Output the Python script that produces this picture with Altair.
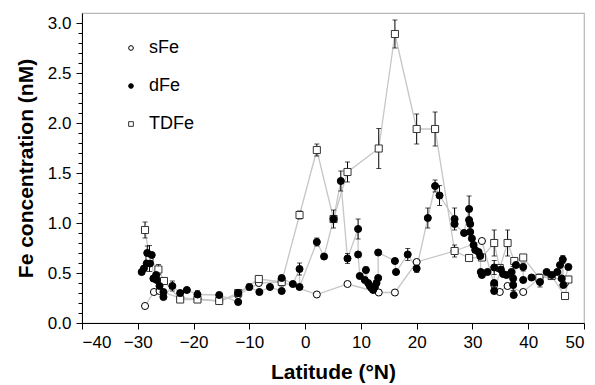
import altair as alt
import pandas as pd

# ---------------- data ----------------
series_names = ["sFe", "dFe", "TDFe"]

tdfe_lat = [-28.7, -27.9, -26.3, -25.3, -22.4, -19.3, -15.4, -12.0, -8.3, -4.2,
            -1.0, 2.1, 5.1, 7.6, 13.2, 16.1, 20.0, 23.3, 26.8, 29.4,
            31.7, 33.9, 34.9, 36.3, 37.5, 39.1, 42.0, 44.2, 46.6, 47.2]
tdfe_val = [0.93, 0.645, 0.535, 0.42, 0.235, 0.235, 0.22, 0.30, 0.44, 0.41,
            1.08, 1.73, 1.04, 1.51, 1.745, 2.89, 1.94, 1.94, 0.72, 0.65,
            0.655, 0.80, 0.55, 0.80, 0.62, 0.655, 0.45, 0.47, 0.27, 0.435]

sfe_lat = [-28.7, -27.1, -26.1, -22.4, -19.3, -15.4, -12.0, -8.3, -4.2, 2.1,
           7.6, 13.2, 16.1, 20.0, 26.8, 31.7, 33.9, 34.9, 36.3, 39.1,
           42.0, 44.2, 46.6]
sfe_val = [0.17, 0.31, 0.32, 0.25, 0.24, 0.22, 0.28, 0.40, 0.41, 0.285,
           0.39, 0.305, 0.305, 0.61, 0.72, 0.82, 0.38, 0.31, 0.37, 0.31,
           0.45, 0.47, 0.40]

dfe_lat = [-29.3, -28.9, -28.4, -28.3, -27.8, -27.5, -27.2, -26.7, -26.6, -26.1,
           -25.4, -25.4, -23.8, -22.4, -21.2, -19.3, -15.4, -12.0, -12.0, -10.0,
           -8.2, -6.3, -4.2, -4.2, -2.2, -1.0, -1.0, 2.1, 3.4, 5.1,
           6.4, 7.6, 9.5, 9.5, 9.8, 10.7, 10.9, 11.3, 11.6, 11.9,
           12.2, 12.5, 12.8, 13.1, 13.1, 16.1, 16.3, 18.4, 20.0, 22.0,
           23.3, 24.1, 26.8, 26.8, 28.5, 29.4, 29.4, 29.6, 29.6, 29.9,
           30.2, 30.5, 31.1, 31.4, 31.5, 31.7, 32.7, 33.9, 33.9, 33.9,
           35.1, 35.5, 36.1, 37.0, 37.3, 37.3, 37.4, 37.8, 39.1, 39.1,
           40.6, 42.1, 43.3, 44.2, 45.2, 45.7, 46.0, 46.2, 46.3, 47.2]
dfe_val = [0.51, 0.545, 0.595, 0.70, 0.595, 0.68, 0.445, 0.48, 0.43, 0.37,
           0.31, 0.26, 0.37, 0.30, 0.33, 0.285, 0.28, 0.21, 0.30, 0.36,
           0.31, 0.36, 0.32, 0.45, 0.39, 0.54, 0.36, 0.81, 0.665, 1.04,
           1.42, 0.645, 0.94, 0.685, 0.47, 0.43, 0.53, 0.40, 0.37, 0.35,
           0.33, 0.36, 0.40, 0.45, 0.705, 0.62, 0.51, 0.685, 0.545, 1.05,
           1.37, 1.275, 1.04, 0.99, 0.90, 1.14, 1.03, 0.99, 0.91, 0.845,
           0.78, 0.73, 0.71, 0.67, 0.51, 0.48, 0.51, 0.555, 0.40, 0.32,
           0.535, 0.49, 0.48, 0.51, 0.445, 0.38, 0.28, 0.58, 0.56, 0.43,
           0.455, 0.41, 0.51, 0.48, 0.51, 0.58, 0.445, 0.635, 0.38, 0.56]

# error bars (centre value and half-width)
err_lat = [-28.7, -27.9, -26.3, -4.2, -1.0, 2.1, 5.1, 7.6, 13.2, 16.1,
           20.0, 23.3, 26.8, 33.9, 36.3, 37.5, 42.0,
           -28.3, -23.8, -19.3, -12.0, -10.0, -1.0, 2.1, 6.4, 9.5,
           7.6, 10.9, 18.4, 20.0, 22.0, 23.3, 24.1, 26.8, 29.4, 33.9,
           37.3, 39.1, 42.1, 46.2]
err_val = [0.93, 0.645, 0.535, 0.41, 1.08, 1.73, 1.04, 1.51, 1.745, 2.89,
           1.94, 1.94, 0.72, 0.80, 0.80, 0.62, 0.45,
           0.70, 0.37, 0.285, 0.30, 0.36, 0.54, 0.81, 1.42, 0.94,
           0.645, 0.53, 0.685, 0.545, 1.05, 1.37, 1.275, 1.04, 1.14, 0.555,
           0.445, 0.56, 0.41, 0.635]
err_sd = [0.08, 0.13, 0.05, 0.04, 0.04, 0.06, 0.09, 0.10, 0.20, 0.14,
          0.15, 0.17, 0.06, 0.13, 0.13, 0.03, 0.04,
          0.07, 0.05, 0.04, 0.03, 0.03, 0.06, 0.04, 0.10, 0.10,
          0.05, 0.03, 0.06, 0.04, 0.10, 0.06, 0.10, 0.11, 0.13, 0.07,
          0.12, 0.04, 0.05, 0.04]

x_ticks = [-40, -30, -20, -10, 0, 10, 20, 30, 40, 50]
y_ticks = [0.0, 0.1, 0.2, 0.3, 0.4, 0.5, 0.6, 0.7, 0.8, 0.9, 1.0,
           1.1, 1.2, 1.3, 1.4, 1.5, 1.6, 1.7, 1.8, 1.9, 2.0,
           2.1, 2.2, 2.3, 2.4, 2.5, 2.6, 2.7, 2.8, 2.9, 3.0]

# ---------------- tables ----------------
rows = []
for name, lats, vals in [("TDFe", tdfe_lat, tdfe_val),
                         ("sFe", sfe_lat, sfe_val),
                         ("dFe", dfe_lat, dfe_val)]:
    for i, (a, b) in enumerate(zip(lats, vals)):
        rows.append({"series": name, "lat": a, "fe": b, "idx": i})
df = pd.DataFrame(rows)

err_df = pd.DataFrame({"lat": err_lat, "val": err_val, "sd": err_sd})

FONT = "Liberation Sans"
major = "abs(datum.value*2 - round(datum.value*2)) < 0.001"

xs = alt.Scale(domain=[-40, 50], nice=False, zero=False)
ys = alt.Scale(domain=[0, 3.1], nice=False)

x_axis = alt.Axis(
    values=x_ticks, format="d", title="Latitude (°N)",
    labelFontSize=17, titleFontSize=21, titleFontWeight="bold",
    tickSize=6, labelPadding=5, titlePadding=11,
    domainColor="black", tickColor="black", labelColor="black", titleColor="black",
    grid=False)
y_axis = alt.Axis(
    values=y_ticks, title="Fe concentration (nM)",
    labelExpr=f"({major}) ? format(datum.value, '.1f') : ''",
    labelOverlap=False, labelFontSize=17, titleFontSize=21, titleFontWeight="bold",
    tickSize={"condition": {"test": major, "value": 6}, "value": 4},
    labelPadding=5, titlePadding=11,
    domainColor="black", tickColor="black", labelColor="black", titleColor="black",
    grid=False)

ex = alt.X("lat:Q", scale=xs, axis=x_axis)

base = alt.Chart(df)

lines = base.mark_line(color="#c6c6c6", strokeWidth=1.3).encode(
    x=ex, y=alt.Y("fe:Q", scale=ys, axis=y_axis), detail="series:N", order="idx:Q")

err_base = alt.Chart(err_df).transform_calculate(
    lo="datum.val - datum.sd", hi="datum.val + datum.sd")
err_rule = err_base.mark_rule(color="black", strokeWidth=1).encode(
    x=ex, y=alt.Y("lo:Q", scale=ys, axis=y_axis), y2="hi:Q")
cap_lo = err_base.mark_tick(color="black", orient="horizontal", size=5, thickness=1).encode(
    x=ex, y=alt.Y("lo:Q", scale=ys, axis=y_axis))
cap_hi = err_base.mark_tick(color="black", orient="horizontal", size=5, thickness=1).encode(
    x=ex, y=alt.Y("hi:Q", scale=ys, axis=y_axis))

legend = alt.Legend(title=None, orient="none", legendX=40, legendY=26,
                    direction="vertical", labelFontSize=18, labelFont=FONT,
                    labelColor="black", symbolSize=22, symbolStrokeWidth=1,
                    labelOffset=9, rowPadding=20, padding=0)

points = base.mark_point(filled=True, size=50, strokeWidth=1, opacity=1).encode(
    x=ex,
    y=alt.Y("fe:Q", scale=ys, axis=y_axis),
    shape=alt.Shape("series:N", scale=alt.Scale(domain=series_names,
                    range=["circle", "circle", "square"]), legend=legend),
    fill=alt.Fill("series:N", scale=alt.Scale(domain=series_names,
                  range=["white", "black", "white"]), legend=legend),
    stroke=alt.Stroke("series:N", scale=alt.Scale(domain=series_names,
                      range=["black", "black", "#333333"]), legend=legend),
    order="idx:Q",
)

chart = alt.layer(lines, err_rule, cap_lo, cap_hi, points).properties(
    width=502, height=310,
    autosize=alt.AutoSizeParams(type="none"),
    padding={"left": 82, "top": 13, "right": 11, "bottom": 62},
).configure(font=FONT).configure_view(stroke="#b8b8b8", strokeWidth=1.2)

chart.save("out.html", embed_options={"renderer": "svg", "actions": False})
